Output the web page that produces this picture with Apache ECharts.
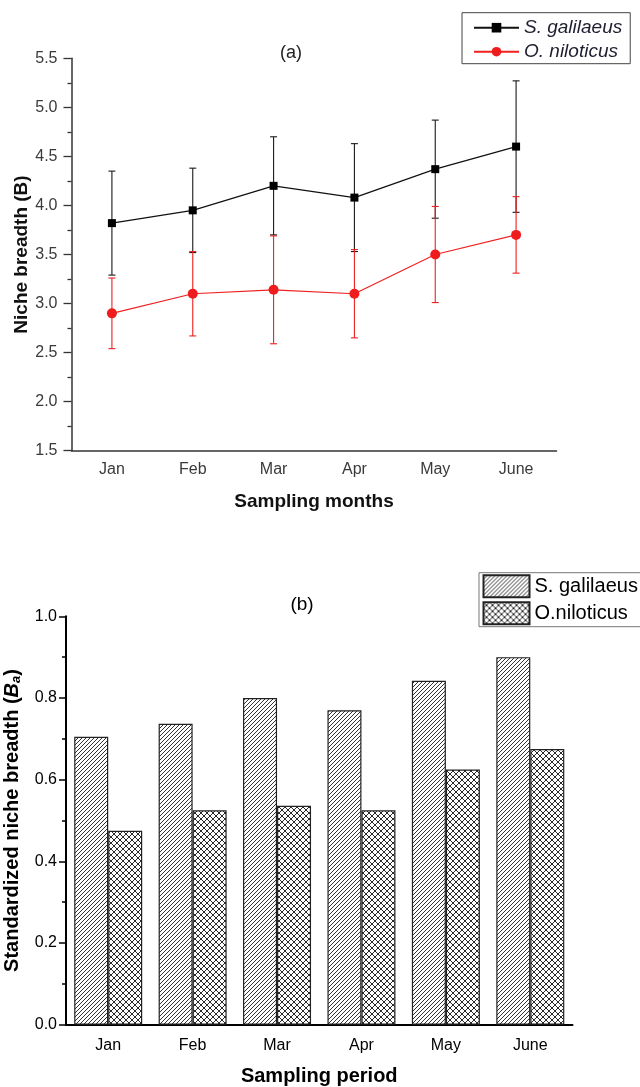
<!DOCTYPE html>
<html>
<head>
<meta charset="utf-8">
<script src="https://cdn.jsdelivr.net/npm/echarts@6/dist/echarts.min.js"></script>
<style>
html,body{margin:0;padding:0;background:#fff;}
#chart{width:640px;height:1087px;}
</style>
</head>
<body>
<div id="chart"></div>
<script>
// ---- data ----
var months = ['Jan', 'Feb', 'Mar', 'Apr', 'May', 'June'];
var galMean = [3.82, 3.95, 4.20, 4.08, 4.37, 4.60];
var galErr  = [0.53, 0.43, 0.50, 0.55, 0.50, 0.67];
var nilMean = [2.90, 3.10, 3.14, 3.10, 3.50, 3.70];
var nilErr  = [0.36, 0.43, 0.55, 0.45, 0.49, 0.39];
var galBa = [0.705, 0.737, 0.800, 0.770, 0.842, 0.900];
var nilBa = [0.475, 0.525, 0.536, 0.525, 0.625, 0.675];
var yTicksA = [1.5, 5.5, 0.5];
var yTicksB = [0, 1.0, 0.2];

var FONT = '"Liberation Sans", Arial, sans-serif';

function hatchPattern() {
  var c = document.createElement('canvas');
  c.width = 8; c.height = 8;
  var g = c.getContext('2d');
  g.fillStyle = '#fff'; g.fillRect(0, 0, 8, 8);
  g.strokeStyle = '#333'; g.lineWidth = 1;
  for (var k = -8; k <= 24; k += 4) {
    g.beginPath(); g.moveTo(0, k); g.lineTo(8, k - 8); g.stroke();
  }
  return c;
}
function crossPattern() {
  var c = document.createElement('canvas');
  c.width = 6; c.height = 6;
  var g = c.getContext('2d');
  g.fillStyle = '#fff'; g.fillRect(0, 0, 6, 6);
  g.strokeStyle = '#2a2a2a'; g.lineWidth = 1;
  for (var k = -6; k <= 18; k += 6) {
    g.beginPath(); g.moveTo(0, k); g.lineTo(6, k - 6); g.stroke();
    g.beginPath(); g.moveTo(0, k - 6); g.lineTo(6, k); g.stroke();
  }
  return c;
}

function errData(mean, err) {
  return mean.map(function (m, i) { return [i, m - err[i], m + err[i]]; });
}
function errRender(color) {
  return function (params, api) {
    var i = api.value(0);
    var lo = api.coord([i, api.value(1)]);
    var hi = api.coord([i, api.value(2)]);
    var w = 3.5;
    var st = { stroke: color, lineWidth: 1.1 };
    return {
      type: 'group',
      children: [
        { type: 'line', shape: { x1: lo[0], y1: lo[1], x2: hi[0], y2: hi[1] }, style: st },
        { type: 'line', shape: { x1: lo[0] - w, y1: lo[1], x2: lo[0] + w, y2: lo[1] }, style: st },
        { type: 'line', shape: { x1: hi[0] - w, y1: hi[1], x2: hi[0] + w, y2: hi[1] }, style: st }
      ]
    };
  };
}

var chart = echarts.init(document.getElementById('chart'), null, { renderer: 'canvas' });
var hatch = { image: hatchPattern(), repeat: 'repeat' };
var cross = { image: crossPattern(), repeat: 'repeat' };

var axisColA = '#333';
var option = {
  animation: false,
  textStyle: { fontFamily: FONT },
  title: [
    { text: '(a)', left: 291, top: 44, textAlign: 'center', padding: 0,
      textStyle: { fontFamily: FONT, fontSize: 18, fontWeight: 'normal', color: '#222' } },
    { text: '(b)', left: 302, top: 595, textAlign: 'center', padding: 0,
      textStyle: { fontFamily: FONT, fontSize: 19, fontWeight: 'normal', color: '#000' } }
  ],
  legend: [
    {
      data: ['S. galilaeus', 'O. niloticus'],
      orient: 'vertical', left: 462, top: 12.7,
      padding: [4, 8, 1, 11], itemGap: 2,
      itemWidth: 45, itemHeight: 12,
      borderColor: '#444', borderWidth: 1,
      textStyle: { fontFamily: FONT, fontSize: 19, fontStyle: 'italic', color: '#1e1e30', lineHeight: 22 }
    },
    {
      data: ['S. galilaeus ', 'O.niloticus'],
      orient: 'vertical', left: 479, top: 572.7,
      padding: [1.5, 12, 1.5, 3.5], itemGap: 3,
      itemWidth: 46, itemHeight: 22, icon: 'rect',
      borderColor: '#777', borderWidth: 1,
      textStyle: { fontFamily: FONT, fontSize: 20, color: '#000' }
    }
  ],
  grid: [
    { left: 71.5, top: 58.3, width: 485, height: 392.4, outerBoundsMode: 'none', containLabel: false },
    { left: 66, top: 616.3, width: 506.5, height: 408.4, outerBoundsMode: 'none', containLabel: false }
  ],
  xAxis: [
    {
      gridIndex: 0, type: 'category', data: months, boundaryGap: true,
      axisLine: { lineStyle: { color: axisColA, width: 1.5 } },
      axisTick: { alignWithLabel: true, length: 7, lineStyle: { color: axisColA, width: 1.3 } },
      axisLabel: { fontFamily: FONT, fontSize: 16, color: '#3a3a3a', margin: 11 },
      name: 'Sampling months', nameLocation: 'middle', nameGap: 42,
      nameTextStyle: { fontFamily: FONT, fontSize: 19, fontWeight: 'bold', color: '#111' }
    },
    {
      gridIndex: 0, type: 'category', data: months, boundaryGap: true, position: 'bottom',
      axisLine: { show: false },
      axisTick: { alignWithLabel: false, length: 4, lineStyle: { color: axisColA, width: 1.3 } },
      axisLabel: { show: false }
    },
    {
      gridIndex: 1, type: 'category', data: months, boundaryGap: true,
      axisLine: { lineStyle: { color: '#000', width: 2 } },
      axisTick: { alignWithLabel: true, length: 7, lineStyle: { color: '#000', width: 1.5 } },
      axisLabel: { fontFamily: FONT, fontSize: 16, color: '#000', margin: 13 },
      name: 'Sampling period', nameLocation: 'middle', nameGap: 42,
      nameTextStyle: { fontFamily: FONT, fontSize: 20, fontWeight: 'bold', color: '#000' }
    },
    {
      gridIndex: 1, type: 'category', data: months, boundaryGap: true, position: 'bottom',
      axisLine: { show: false },
      axisTick: { alignWithLabel: false, length: 4, lineStyle: { color: '#000', width: 1.5 } },
      axisLabel: { show: false }
    }
  ],
  yAxis: [
    {
      gridIndex: 0, type: 'value', min: yTicksA[0], max: yTicksA[1], interval: yTicksA[2],
      splitLine: { show: false },
      axisLine: { show: true, lineStyle: { color: axisColA, width: 1.5 } },
      axisTick: { show: true, length: 8, lineStyle: { color: axisColA, width: 1.3 } },
      minorTick: { show: true, splitNumber: 2, length: 4, lineStyle: { color: axisColA, width: 1.3 } },
      axisLabel: { fontFamily: FONT, fontSize: 16, color: '#3a3a3a', margin: 14,
        formatter: function (v) { return v.toFixed(1); } },
      name: 'Niche breadth (B)', nameLocation: 'middle', nameRotate: 90, nameGap: 40,
      nameMoveOverlap: false,
      nameTextStyle: { fontFamily: FONT, fontSize: 19, fontWeight: 'bold', color: '#111' }
    },
    {
      gridIndex: 1, type: 'value', min: yTicksB[0], max: yTicksB[1], interval: yTicksB[2],
      splitLine: { show: false },
      axisLine: { show: true, lineStyle: { color: '#000', width: 2 } },
      axisTick: { show: true, length: 7, lineStyle: { color: '#000', width: 1.5 } },
      minorTick: { show: true, splitNumber: 2, length: 4, lineStyle: { color: '#000', width: 1.5 } },
      axisLabel: { fontFamily: FONT, fontSize: 16, color: '#000', margin: 9,
        formatter: function (v) { return v.toFixed(1); } },
      name: 'Standardized niche breadth ({i|B}{s|a})', nameLocation: 'middle', nameRotate: 90, nameGap: 43,
      nameMoveOverlap: false,
      nameTextStyle: { fontFamily: FONT, fontSize: 20, fontWeight: 'bold', color: '#000',
        rich: {
          i: { fontFamily: FONT, fontSize: 20, fontWeight: 'bold', fontStyle: 'italic', color: '#000' },
          s: { fontFamily: FONT, fontSize: 13, fontWeight: 'bold', fontStyle: 'italic', color: '#000',
               verticalAlign: 'bottom', padding: [8, 0, 0, 0] }
        } }
    }
  ],
  series: [
    {
      name: 'S. galilaeus', type: 'line', xAxisIndex: 0, yAxisIndex: 0, data: galMean,
      symbol: 'rect', symbolSize: 8,
      lineStyle: { color: '#111', width: 1.2 }, itemStyle: { color: '#000' }, z: 4
    },
    {
      name: 'O. niloticus', type: 'line', xAxisIndex: 0, yAxisIndex: 0, data: nilMean,
      symbol: 'circle', symbolSize: 10,
      lineStyle: { color: '#f02020', width: 1.2 }, itemStyle: { color: '#ee1c1c' }, z: 4
    },
    {
      type: 'custom', xAxisIndex: 0, yAxisIndex: 0, data: errData(galMean, galErr),
      renderItem: errRender('#1a1a1a'), z: 3, silent: true
    },
    {
      type: 'custom', xAxisIndex: 0, yAxisIndex: 0, data: errData(nilMean, nilErr),
      renderItem: errRender('#f02020'), z: 3, silent: true
    },
    {
      name: 'S. galilaeus ', type: 'bar', xAxisIndex: 2, yAxisIndex: 1, data: galBa,
      barWidth: 34, barGap: '0%',
      itemStyle: { color: hatch, borderColor: '#222', borderWidth: 1.2 }
    },
    {
      name: 'O.niloticus', type: 'bar', xAxisIndex: 2, yAxisIndex: 1, data: nilBa,
      barWidth: 34, barGap: '0%',
      itemStyle: { color: cross, borderColor: '#222', borderWidth: 1.2 }
    }
  ]
};
chart.setOption(option);
</script>
</body>
</html>
